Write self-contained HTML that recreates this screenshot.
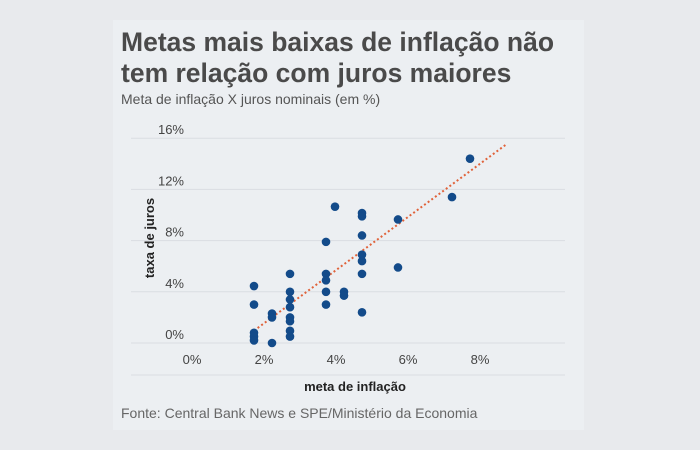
<!DOCTYPE html>
<html><head><meta charset="utf-8"><style>
body{margin:0;width:700px;height:450px;background:#e8eaed;overflow:hidden;font-family:"Liberation Sans",sans-serif}
#panel{position:absolute;left:113px;top:20px;width:471px;height:410px;background:#eceff2}
.t{position:absolute;white-space:nowrap}
</style></head><body>
<div id="panel"></div>
<div class="t" style="left:121px;top:27px;font-size:26.5px;font-weight:bold;color:#4a4a4a;line-height:31px">Metas mais baixas de inflação não<br>tem relação com juros maiores</div>
<div class="t" style="left:121px;top:91px;font-size:14px;color:#555">Meta de inflação X juros nominais (em %)</div>
<div class="t" style="left:121px;top:405px;font-size:14px;color:#666">Fonte: Central Bank News e SPE/Ministério da Economia</div>
<svg id="c" width="700" height="450" style="position:absolute;left:0;top:0"></svg>
<script>
const yTicks=[0,4,8,12,16];
const xTicks=[0,2,4,6,8];
const tickLabelsY=["0%","4%","8%","12%","16%"];
const tickLabelsX=["0%","2%","4%","6%","8%"];
const metaX=[2,2,2,2,2,2.5,2.5,2.5,3,3,3,3,3,3,3,3,4,4,4,4,4,4.25,4.5,4.5,5,5,5,5,5,5,5,6,6,7.5,8];
const jurosY=[4.45,3.0,0.8,0.5,0.2,2.3,2.0,0.0,5.4,4.0,3.4,2.8,2.0,1.7,0.95,0.5,7.9,5.4,4.9,4.0,3.0,10.65,4.0,3.7,10.15,9.9,8.4,6.9,6.4,5.4,2.4,9.65,5.9,11.4,14.4];
const trendX=[2,9];
const trendY=[0.96,15.5];
const NS="http://www.w3.org/2000/svg";
const svg=document.getElementById('c');
const sx=v=>182+v*36, sy=v=>343-v*12.8;
function mk(t,a){const e=document.createElementNS(NS,t);for(const k in a)e.setAttribute(k,a[k]);svg.appendChild(e);return e;}
yTicks.forEach((v,i)=>{
 const g=mk('line',{x1:131,x2:565,y1:sy(v),y2:sy(v),stroke:'#dadde2','stroke-width':1});
 
 
 const t=mk('text',{x:184,y:sy(v)-4,'text-anchor':'end','font-size':13,fill:'#444','font-family':'Liberation Sans'});
 t.textContent=tickLabelsY[i];
 
 
});
const b=mk('line',{x1:131,x2:565,y1:375,y2:375,stroke:'#dadde2','stroke-width':1});


xTicks.forEach((v,i)=>{
 const t=mk('text',{x:sx(v)+10,y:364,'text-anchor':'middle','font-size':13,fill:'#444','font-family':'Liberation Sans'});
 t.textContent=tickLabelsX[i];
 
 
});
const tl=mk('line',{x1:sx(trendX[0]),y1:sy(trendY[0]),x2:sx(trendX[1]),y2:sy(trendY[1]),stroke:'#e0623a','stroke-width':2,'stroke-dasharray':'2 2.5'});


metaX.forEach((x,i)=>{
 const c=mk('circle',{cx:sx(x),cy:sy(jurosY[i]),r:4.3,fill:'#134b8a'});
 
 
});
const xt=mk('text',{x:355,y:391,'text-anchor':'middle','font-size':13,'font-weight':'bold',fill:'#222','font-family':'Liberation Sans'});
xt.textContent='meta de inflação';


const yt=mk('text',{x:0,y:0,'text-anchor':'middle','font-size':13,'font-weight':'bold',fill:'#222','font-family':'Liberation Sans',transform:'translate(154,238) rotate(-90)'});
yt.textContent='taxa de juros';


</script>
</body></html>
